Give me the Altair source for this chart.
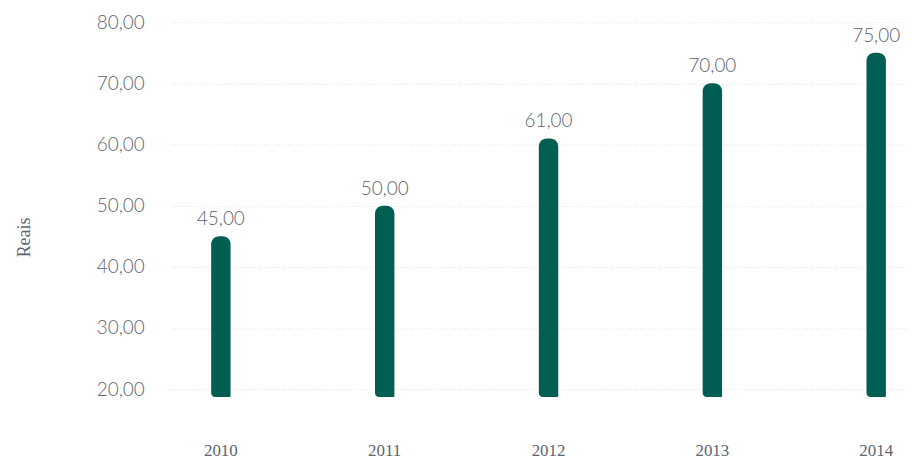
import altair as alt
import pandas as pd

years = ["2010", "2011", "2012", "2013", "2014"]
values = [45.0, 50.0, 61.0, 70.0, 75.0]
y_ticks = [20, 30, 40, 50, 60, 70, 80]
y_min = 18.7
y_max = 80

df = pd.DataFrame({"ano": years, "valor": values})

base = alt.Chart(df)

x_enc = alt.X(
    "ano:N",
    sort=years,
    scale=alt.Scale(paddingInner=0.8816, paddingOuter=0.1867, align=0.655, round=False),
    axis=alt.Axis(
        title=None, labelAngle=0, domain=False, ticks=False, grid=False,
        labelPadding=46, labelFont="Liberation Serif", labelFontSize=17,
        labelColor="#5d6570",
    ),
)

bars = base.mark_bar(
    color="#005F52",
    cornerRadiusTopLeft=8, cornerRadiusTopRight=8,
    cornerRadiusBottomLeft=4, cornerRadiusBottomRight=1,
).encode(
    x=x_enc,
    y=alt.Y(
        "valor:Q",
        scale=alt.Scale(domain=[y_min, y_max], nice=False, zero=False),
        axis=alt.Axis(
            values=y_ticks, title="Reais", domain=False, ticks=False,
            labelExpr="replace(format(datum.value, '.2f'), '.', ',')",
            labelPadding=27, labelFont="Lato", labelFontWeight=300,
            labelFontSize=19, labelColor="#5d6570",
            gridColor="#dcdcdc", gridDash=[1, 2], gridWidth=1,
            titleFont="Liberation Serif", titleFontWeight="normal", titleFontSize=18,
            titleColor="#5d6570", titleX=-147, titleY=216, titleBaseline="middle",
            titleAngle=-90,
        ),
    ),
    y2=alt.datum(y_min),
)

labels = base.transform_calculate(
    lbl="replace(format(datum.valor, '.2f'), '.', ',')"
).mark_text(
    dy=-7, baseline="bottom", align="center",
    font="Lato", fontWeight=300, fontSize=19, color="#5d6570",
).encode(
    x=alt.X("ano:N", sort=years),
    y=alt.Y("valor:Q"),
    text="lbl:N",
)

chart = (bars + labels).properties(
    width=740, height=377,
    autosize=alt.AutoSizeParams(type="none"),
    padding={"left": 164, "top": 13, "right": 0, "bottom": 63},
).configure_view(stroke=None)

chart.save("out.html", embed_options={"renderer": "svg", "actions": False})
